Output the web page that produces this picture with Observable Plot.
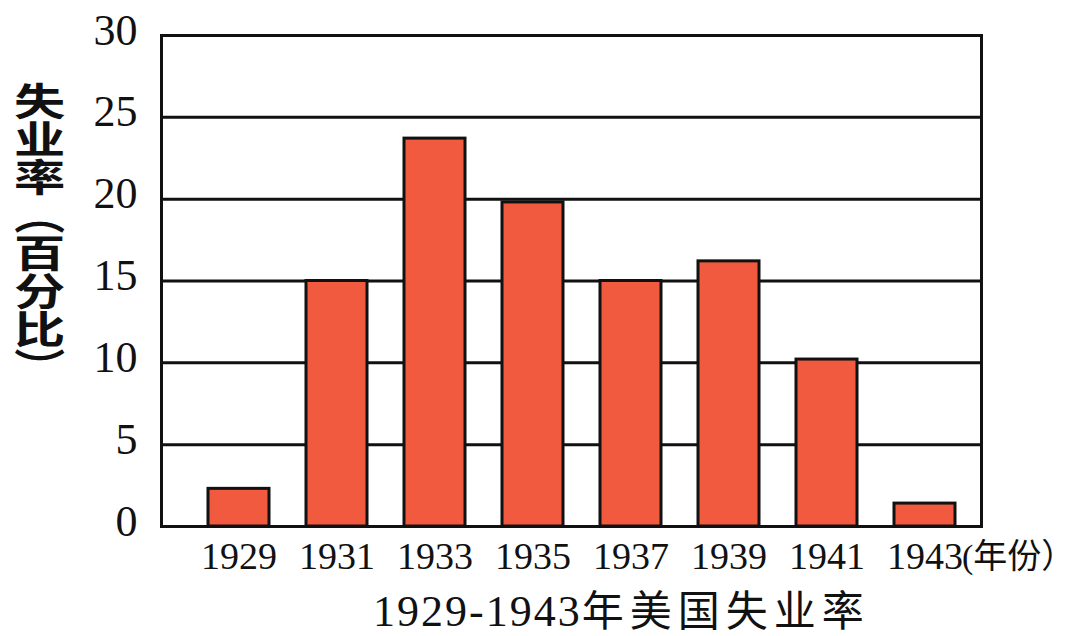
<!DOCTYPE html>
<html>
<head>
<meta charset="utf-8">
<script src="https://cdn.jsdelivr.net/npm/d3@7"></script>
<script src="https://cdn.jsdelivr.net/npm/@observablehq/plot@0.6"></script>
<style>
  body { margin: 0; background: #fff; }
  #wrap { position: relative; width: 1077px; height: 636px; background: #fff; }
  #chart svg { display: block; }
  #ytitle {
    position: absolute; left: 20px; top: 82px;
    writing-mode: vertical-rl;
    font-family: "Noto Sans CJK SC", sans-serif; font-weight: 700;
    font-size: 38px; line-height: 38px; color: #111;
    transform: scaleX(1.35); transform-origin: center top;
  }
  #title {
    position: absolute; left: 373px; top: 585.5px; height: 44px; line-height: 44px;
    white-space: nowrap; color: #111;
  }
  #title .num { font-family: "Liberation Serif", serif; font-size: 44px; letter-spacing: 2px; }
  #title .cjk { font-family: "Noto Sans CJK SC", sans-serif; font-size: 42px; letter-spacing: 6px; }
</style>
</head>
<body>
<div id="wrap">
  <div id="chart"></div>
  <div id="ytitle"></div>
  <div id="title"><span class="num"></span><span class="cjk"></span></div>
</div>
<script>
const years = ["1929", "1931", "1933", "1935", "1937", "1939", "1941", "1943"];
const rates = [2.3, 15, 23.7, 19.8, 15, 16.2, 10.2, 1.4];
const yTicks = [0, 5, 10, 15, 20, 25, 30];
const yTitle = "失业率（百分比）";
const xUnit = "(年份）";
const titleNum = "1929-1943";
const titleCjk = "年美国失业率";

const data = years.map((year, i) => ({year, rate: rates[i]}));

const chart = Plot.plot({
  width: 1077,
  height: 580,
  marginTop: 35,
  marginBottom: 54,
  marginLeft: 161,
  marginRight: 96,
  style: {fontFamily: '"Liberation Serif", serif', background: "#fff", color: "#111", overflow: "visible"},
  x: {type: "band", domain: years, range: [188, 975], paddingInner: 0.38, paddingOuter: 0.19},
  y: {domain: [0, 30], ticks: yTicks},
  marks: [
    Plot.ruleY(yTicks, {stroke: "#111", strokeWidth: 3}),
    Plot.barY(data, {x: "year", y: "rate", fill: "#f25a3f", stroke: "#111", strokeWidth: 3}),
    Plot.frame({stroke: "#111", strokeWidth: 3}),
    Plot.axisX({tickSize: 0, tickPadding: 16, fontSize: 38, label: null}),
    Plot.axisY(yTicks, {tickSize: 0, tickPadding: 24, fontSize: 44, label: null, dy: -5}),
    Plot.text([years[years.length - 1]], {
      x: d => d, text: () => xUnit, frameAnchor: "bottom", lineAnchor: "top",
      textAnchor: "start", dx: 37, dy: 17, fontSize: 34,
      fontFamily: '"Liberation Serif", "Noto Sans CJK SC", serif'
    })
  ]
});
document.getElementById("chart").appendChild(chart);
document.getElementById("ytitle").textContent = yTitle;
document.querySelector("#title .num").textContent = titleNum;
document.querySelector("#title .cjk").textContent = titleCjk;
</script>
</body>
</html>
